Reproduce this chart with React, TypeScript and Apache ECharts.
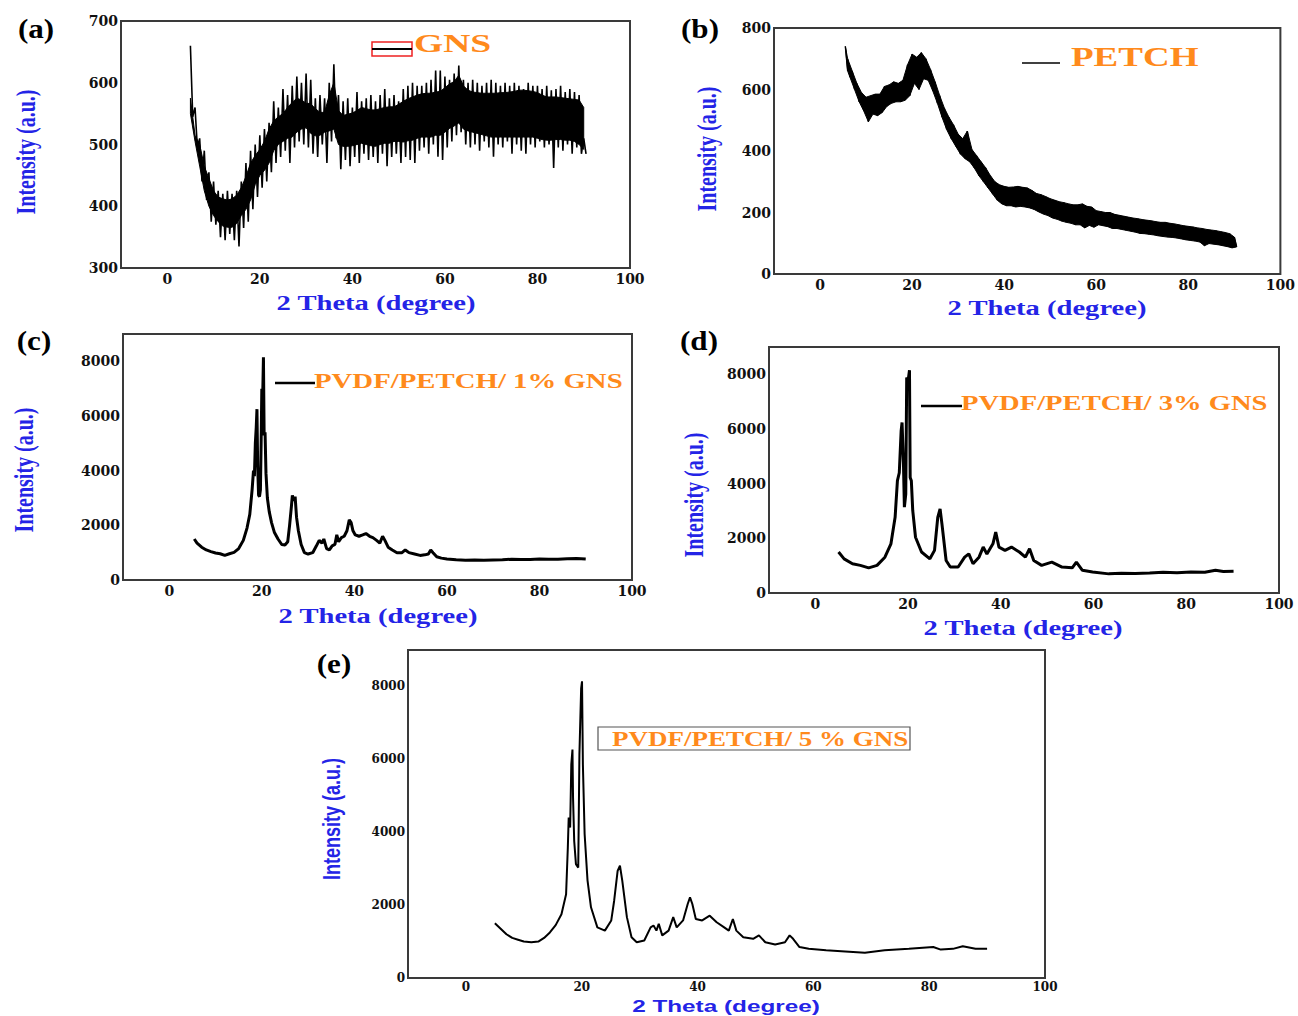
import React, { useEffect, useRef } from "react";
import * as echarts from "echarts";

// ---------- tick labels ----------
const thetaTicks = [0, 20, 40, 60, 80, 100];
const gnsTicks = [300, 400, 500, 600, 700];
const petchTicks = [0, 200, 400, 600, 800];
const compTicks = [0, 2000, 4000, 6000, 8000];

// ---------- (a) GNS : 1 degree steps from 5 to 90 ----------
// dense core of the noise band
const gnsCoreHigh = [
  575, 515, 500, 465, 445, 425, 415, 412, 410, 412,
  418, 430, 448, 470, 482, 492, 505, 525, 538, 545,
  550, 560, 568, 575, 572, 567, 566, 558, 552, 552,
  580, 600, 555, 547, 549, 551, 555, 560, 558, 556,
  556, 558, 560, 561, 561, 565, 570, 574, 577, 580,
  582, 583, 583, 585, 586, 592, 598, 602, 612, 595,
  588, 585, 584, 583, 583, 583, 583, 584, 584, 585,
  586, 588, 588, 587, 586, 584, 580, 577, 577, 577,
  576, 575, 574, 573, 572, 560,
];
const gnsCoreLow = [
  550, 505, 465, 425, 400, 385, 375, 368, 366, 366,
  372, 385, 395, 410, 435, 450, 458, 470, 490, 500,
  505, 510, 512, 520, 525, 527, 518, 514, 515, 520,
  522, 525, 500, 497, 497, 498, 500, 502, 500, 498,
  497, 500, 502, 502, 505, 505, 504, 506, 507, 510,
  512, 512, 512, 515, 515, 520, 526, 530, 535, 525,
  522, 520, 518, 516, 514, 512, 512, 512, 512, 512,
  512, 512, 512, 512, 512, 510, 508, 507, 507, 508,
  508, 507, 507, 505, 500, 492,
];
// spike tips above and below the core
const gnsHigh = [
  660, 560, 510, 490, 455, 440, 425, 420, 425, 420,
  425, 440, 470, 490, 500, 515, 525, 535, 570, 560,
  590, 580, 595, 610, 600, 615, 605, 575, 580, 575,
  600, 630, 580, 570, 575, 560, 585, 570, 575, 580,
  570, 580, 590, 575, 580, 570, 590, 595, 600, 595,
  595, 600, 605, 620, 620, 610, 605, 615, 628, 605,
  600, 605, 600, 595, 600, 605, 600, 595, 600, 595,
  600, 595, 590, 600, 595, 595, 590, 595, 588, 590,
  595, 585, 590, 585, 580, 510,
];
const gnsLow = [
  545, 495, 440, 410, 375, 370, 350, 345, 355, 345,
  335, 365, 375, 395, 415, 430, 440, 455, 470, 480,
  490, 470, 495, 505, 500, 495, 485, 480, 500, 470,
  505, 510, 460, 475, 465, 480, 470, 485, 475, 480,
  470, 485, 465, 480, 485, 470, 480, 475, 470, 490,
  495, 485, 500, 480, 475, 495, 505, 515, 520, 500,
  495, 500, 490, 505, 495, 480, 500, 495, 505, 485,
  500, 490, 485, 500, 495, 505, 495, 500, 462, 495,
  490, 500, 485, 495, 485, 485,
];

// ---------- (b) PETCH : 5.5 then 6..90 ----------
const petchHigh = [
  740, 700, 660, 620, 590, 575, 580, 585, 585, 610,
  615, 625, 620, 630, 680, 715, 705, 720, 700, 665,
  625, 580, 540, 510, 485, 455, 440, 465, 405, 385,
  365, 345, 320, 300, 290, 285, 282, 283, 285, 282,
  280, 272, 262, 258, 252, 245, 240, 235, 232, 228,
  225, 225, 228, 220, 218, 206, 203, 200, 200, 194,
  191, 188, 185, 182, 180, 177, 175, 173, 170, 168,
  168, 165, 163, 160, 157, 155, 153, 150, 148, 145,
  143, 141, 138, 135, 131, 120,
];
const petchLow = [
  660, 640, 600, 560, 530, 495, 520, 515, 525, 545,
  555, 560, 560, 565, 580, 620, 600, 635, 630, 595,
  555, 510, 470, 440, 415, 390, 375, 365, 345, 320,
  300, 280, 260, 240, 228, 222, 222, 218, 220, 218,
  215, 210, 202, 195, 190, 182, 178, 172, 168, 165,
  160, 160, 150, 158, 152, 160, 157, 154, 148, 148,
  145, 142, 139, 136, 132, 131, 129, 127, 124, 122,
  120, 119, 117, 114, 111, 109, 107, 104, 92, 99,
  97, 95, 92, 89, 85, 88,
];

// ---------- (c) PVDF/PETCH/1% GNS ----------
const thetaC = [
  5.4, 6, 7, 8, 9, 10, 11, 12, 13, 14, 15, 16, 16.8, 17.4, 17.9, 18.2, 18.4, 18.6, 18.8, 18.95,
  19.1, 19.3, 19.5, 19.7, 19.85, 20.0, 20.2, 20.35, 20.5, 20.7, 20.9, 21.2, 21.6, 22.1, 22.7, 23.5,
  24.3, 25.0, 25.6, 26.0, 26.4, 26.6, 26.9, 27.2, 27.5, 27.9, 28.5, 29.2, 30.0, 31.0, 31.8, 32.4,
  33.0, 33.4, 34.0, 34.6, 35.2, 35.8, 36.2, 36.6, 37.2, 37.8, 38.4, 38.9, 39.3, 39.7, 40.2, 41.0,
  41.8, 42.5, 43.3, 44.0, 44.8, 45.5, 46.1, 46.6, 47.3, 48.2, 49.2, 50.3, 51.0, 51.8, 53.0, 54.2,
  55.2, 56.0, 56.5, 57.0, 57.8, 58.8, 60, 62, 64, 66, 68, 70, 72, 74, 76, 78, 80, 82, 84, 86, 88, 90,
];
const intC = [
  1500, 1350, 1200, 1100, 1040, 990, 960, 900, 960, 1010, 1150, 1450, 1900, 2400, 3300, 4000, 3800, 5000, 5600, 6250,
  4200, 3100, 3050, 3300, 5000, 7000, 6800, 8150, 5300, 5400, 3900, 3000, 2500, 2100, 1750, 1500,
  1300, 1280, 1400, 2000, 2700, 3100, 2900, 3050, 2300, 1800, 1300, 1000, 950, 1000, 1250, 1450,
  1350, 1500, 1150, 1100, 1250, 1300, 1650, 1400, 1550, 1600, 1800, 2200, 2100, 1800, 1650, 1600,
  1650, 1700, 1600, 1550, 1450, 1350, 1600, 1450, 1200, 1100, 1000, 1000, 1100, 1000, 950, 900,
  920, 950, 1100, 1000, 850, 800, 770, 740, 720, 730, 720, 730, 740, 760, 750, 750, 770, 760, 760, 780, 790, 770,
];

// ---------- (d) PVDF/PETCH/3% GNS ----------
const thetaD = [
  5.0, 6.2, 8.0, 9.7, 11.5, 13.3, 15.0, 16.3, 17.2, 17.7, 18.1, 18.5, 18.7, 19.0, 19.2, 19.5, 19.7, 20.0,
  20.3, 20.45, 20.7, 21.0, 21.6, 22.9, 24.7, 25.7, 26.4, 26.9, 27.3, 28.2, 29.1, 30.8, 32.2, 33.1, 34.0,
  35.3, 36.2, 37.0, 38.3, 38.9, 39.6, 40.9, 42.3, 44.0, 45.3, 46.2, 47.1, 48.8, 51.0, 53.2, 55.4, 56.3,
  57.6, 59.8, 63.3, 66, 69, 72.1, 75, 78, 81, 84, 86.3, 88, 90.2,
];
const intD = [
  1500, 1250, 1070, 1010, 920, 1010, 1310, 1800, 2770, 4110, 4400, 5930, 6240, 4720, 3140, 3620, 7880, 7760,
  8150, 4230, 4110, 3020, 2040, 1500, 1250, 1560, 2770, 3080, 2530, 1190, 950, 950, 1310, 1430, 1070,
  1310, 1680, 1430, 1800, 2230, 1680, 1560, 1680, 1500, 1310, 1620, 1190, 1010, 1130, 950, 920, 1130,
  830, 770, 700, 720, 710, 730, 760, 740, 770, 760, 830, 790, 800,
];

// ---------- (e) PVDF/PETCH/5% GNS ----------
const thetaE = [
  5.0, 6, 7, 8, 9, 10, 11.3, 12.5, 13.5, 14.5, 15.5, 16.5, 17.3, 17.6, 17.75, 18.0, 18.2, 18.4, 18.5,
  18.7, 19.0, 19.4, 19.6, 19.9, 20.05, 20.2, 20.5, 21.0, 21.6, 22.7, 24.0, 25.1, 25.6, 26.2, 26.6, 27.0,
  27.8, 28.6, 29.5, 30.8, 31.9, 32.4, 32.9, 33.3, 33.9, 35.0, 35.8, 36.4, 37.5, 38.3, 38.7, 39.1, 39.7,
  40.8, 42.1, 43.3, 44.6, 45.4, 46.1, 46.7, 47.9, 49.6, 50.6, 51.7, 53.4, 55.1, 55.9, 56.5, 57.6, 59.2,
  62.2, 65.5, 68.9, 72.3, 76.5, 80.7, 82, 84.1, 85.8, 88, 90,
];
const intE = [
  1500, 1350, 1200, 1100, 1050, 1000, 980, 1000, 1100, 1250, 1450, 1750, 2300, 3580, 4400, 4130, 5860, 6270, 4950,
  3760, 3125, 3030, 6130, 7950, 8140, 5860, 3950, 2680, 1940, 1390, 1300, 1580, 2120, 2940, 3080, 2670,
  1670, 1120, 980, 1030, 1390, 1440, 1300, 1490, 1170, 1300, 1670, 1390, 1580, 2030, 2210, 2030, 1620,
  1580, 1710, 1530, 1390, 1300, 1620, 1300, 1120, 1075, 1170, 980, 920, 980, 1170, 1075, 850, 800,
  760, 730, 690, 760, 800, 850, 780, 800, 870, 800, 800,
];

// ---------- builders ----------
const gnsTheta = gnsHigh.map((_, i) => 5 + i);
const petchTheta = petchHigh.map((_, i) => (i === 0 ? 5.5 : 5 + i));
const pairs = (xs: number[], ys: number[]) => xs.map((x, i) => [x, ys[i]]);
function bandTrace(xs: number[], hi: number[], lo: number[]) {
  const out: number[][] = [];
  for (let i = 0; i < hi.length; i++) {
    out.push([xs[i], hi[i]]);
    out.push([xs[i] + 0.5, lo[i]]);
  }
  return out;
}

const BLUE = "#2424e6";
const ORANGE = "#ff8a1c";

export default function App() {
  const ref = useRef<HTMLDivElement>(null);
  useEffect(() => {
    document.body.style.margin = "0";
    document.body.style.overflow = "hidden";
    const chart = echarts.init(ref.current!, null, { renderer: "svg" });

    const grids = [
      { left: 121, top: 21, width: 509, height: 247 },
      { left: 774, top: 28, width: 508, height: 246 },
      { left: 123, top: 334, width: 509, height: 246 },
      { left: 769, top: 347, width: 510, height: 246 },
      { left: 408, top: 650, width: 637, height: 328 },
    ].map((g) => ({ ...g, show: true, borderColor: "#3a3a3a", borderWidth: 2, backgroundColor: "transparent" }));

    const tickFont = (size: number) => ({
      fontFamily: "DejaVu Serif",
      fontWeight: "bold" as const,
      fontSize: size,
      color: "#111",
      formatter: (v: number) => String(v),
    });

    const xAxes = grids.map((_, i) => ({
      type: "value" as const,
      gridIndex: i,
      min: -10,
      max: 100,
      axisLine: { show: false },
      axisTick: { show: false },
      splitLine: { show: false },
      axisLabel: { ...tickFont(i === 4 ? 12 : 14), margin: i === 4 ? 3 : 4, customValues: thetaTicks },
    }));

    const yRanges = [
      { min: 300, max: 700, ticks: gnsTicks },
      { min: 0, max: 800, ticks: petchTicks },
      { min: 0, max: 9000, ticks: compTicks },
      { min: 0, max: 9000, ticks: compTicks },
      { min: 0, max: 9000, ticks: compTicks },
    ];
    const yAxes = yRanges.map((r, i) => ({
      type: "value" as const,
      gridIndex: i,
      min: r.min,
      max: r.max,
      axisLine: { show: false },
      axisTick: { show: false },
      splitLine: { show: false },
      axisLabel: { ...tickFont(i === 4 ? 12 : 14), margin: 3, customValues: r.ticks },
    }));

    const lineSeries = (i: number, data: number[][], w: number) => ({
      type: "line" as const,
      xAxisIndex: i,
      yAxisIndex: i,
      data,
      showSymbol: false,
      symbol: "none",
      lineStyle: { color: "#000", width: w },
      silent: true,
      z: 3,
    });

    // filled band between two envelopes, drawn through the axes' scales
    const bandFill = (i: number, xs: number[], top: number[], bottom: number[], shift: number) => ({
      type: "custom" as const,
      xAxisIndex: i,
      yAxisIndex: i,
      silent: true,
      z: 2,
      data: [[xs[0], top[0]]],
      renderItem: (_p: any, api: any) => {
        const pts: number[][] = [];
        for (let k = 0; k < xs.length; k++) pts.push(api.coord([xs[k], top[k]]));
        for (let k = xs.length - 1; k >= 0; k--) pts.push(api.coord([xs[k] + shift, bottom[k]]));
        return { type: "polygon", shape: { points: pts }, style: { fill: "#000", stroke: "#000", lineWidth: 1 } };
      },
    });

    const series = [
      bandFill(0, gnsTheta, gnsCoreHigh, gnsCoreLow, 0),
      lineSeries(0, bandTrace(gnsTheta, gnsHigh, gnsLow), 1.6),
      bandFill(1, petchTheta, petchHigh, petchLow, 0.5),
      lineSeries(1, bandTrace(petchTheta, petchHigh, petchLow), 1.4),
      lineSeries(2, pairs(thetaC, intC), 3),
      lineSeries(3, pairs(thetaD, intD), 3),
      lineSeries(4, pairs(thetaE, intE), 2),
    ];

    const text = (
      x: number,
      y: number,
      t: string,
      o: { size: number; fill: string; family?: string; align?: string; sx?: number; sy?: number; rot?: number }
    ) => ({
      type: "text",
      x,
      y,
      scaleX: o.sx ?? 1,
      scaleY: o.sy ?? 1,
      rotation: o.rot ?? 0,
      z: 10,
      style: {
        text: t,
        fill: o.fill,
        fontSize: o.size,
        fontWeight: "bold",
        fontFamily: o.family ?? "Liberation Serif",
        textAlign: o.align ?? "center",
        textVerticalAlign: "middle",
        align: o.align ?? "center",
        verticalAlign: "middle",
      },
    });

    const sans = "Liberation Sans";
    const xTitle = "2 Theta (degree)";
    const yTitle = "Intensity (a.u.)";

    const graphic = [
      // panel letters
      text(36, 29, "(a)", { size: 27, fill: "#000", sx: 1.15 }),
      text(700, 29, "(b)", { size: 27, fill: "#000", sx: 1.15 }),
      text(34, 341, "(c)", { size: 27, fill: "#000", sx: 1.15 }),
      text(699, 341, "(d)", { size: 27, fill: "#000", sx: 1.15 }),
      text(334, 664, "(e)", { size: 27, fill: "#000", sx: 1.15 }),
      // x titles
      text(376, 303, xTitle, { size: 20, fill: BLUE, sx: 1.43 }),
      text(1047, 308, xTitle, { size: 20, fill: BLUE, sx: 1.43 }),
      text(378, 616, xTitle, { size: 20, fill: BLUE, sx: 1.43 }),
      text(1023, 628, xTitle, { size: 20, fill: BLUE, sx: 1.43 }),
      text(726, 1006, xTitle, { size: 17, fill: BLUE, family: sans, sx: 1.43 }),
      // y titles
      text(25, 152, yTitle, { size: 20, fill: BLUE, rot: Math.PI / 2, sy: 1.4 }),
      text(706, 149, yTitle, { size: 20, fill: BLUE, rot: Math.PI / 2, sy: 1.4 }),
      text(23, 470, yTitle, { size: 20, fill: BLUE, rot: Math.PI / 2, sy: 1.4 }),
      text(693, 495, yTitle, { size: 20, fill: BLUE, rot: Math.PI / 2, sy: 1.4 }),
      text(332, 819, yTitle, { size: 18, fill: BLUE, family: sans, rot: Math.PI / 2, sy: 1.3 }),
      // legends
      {
        type: "rect",
        shape: { x: 372, y: 42, width: 40, height: 14 },
        style: { fill: "none", stroke: "#ee2222", lineWidth: 1.5 },
      },
      { type: "line", shape: { x1: 372, y1: 49, x2: 412, y2: 49 }, style: { stroke: "#000", lineWidth: 2 } },
      text(414, 44, "GNS", { size: 25, fill: ORANGE, align: "left", sx: 1.5 }),
      { type: "line", shape: { x1: 1022, y1: 63, x2: 1060, y2: 63 }, style: { stroke: "#000", lineWidth: 1.5 } },
      text(1071, 57, "PETCH", { size: 27, fill: ORANGE, align: "left", sx: 1.37 }),
      { type: "line", shape: { x1: 275, y1: 383, x2: 315, y2: 383 }, style: { stroke: "#000", lineWidth: 2.5 } },
      text(314, 381, "PVDF/PETCH/ 1% GNS", { size: 20, fill: ORANGE, align: "left", sx: 1.44 }),
      { type: "line", shape: { x1: 921, y1: 406, x2: 962, y2: 406 }, style: { stroke: "#000", lineWidth: 2.5 } },
      text(961, 403, "PVDF/PETCH/ 3% GNS", { size: 20, fill: ORANGE, align: "left", sx: 1.43 }),
      {
        type: "rect",
        shape: { x: 598, y: 727, width: 312, height: 23 },
        style: { fill: "#fff", stroke: "#555", lineWidth: 1.2 },
      },
      text(612, 739, "PVDF/PETCH/ 5 % GNS", { size: 20, fill: ORANGE, align: "left", sx: 1.35 }),
    ];

    chart.setOption({
      animation: false,
      backgroundColor: "#fff",
      grid: grids,
      xAxis: xAxes,
      yAxis: yAxes,
      series,
      graphic,
    });
    return () => chart.dispose();
  }, []);
  return <div ref={ref} style={{ position: "absolute", left: 0, top: 0, width: 1298, height: 1016 }} />;
}
